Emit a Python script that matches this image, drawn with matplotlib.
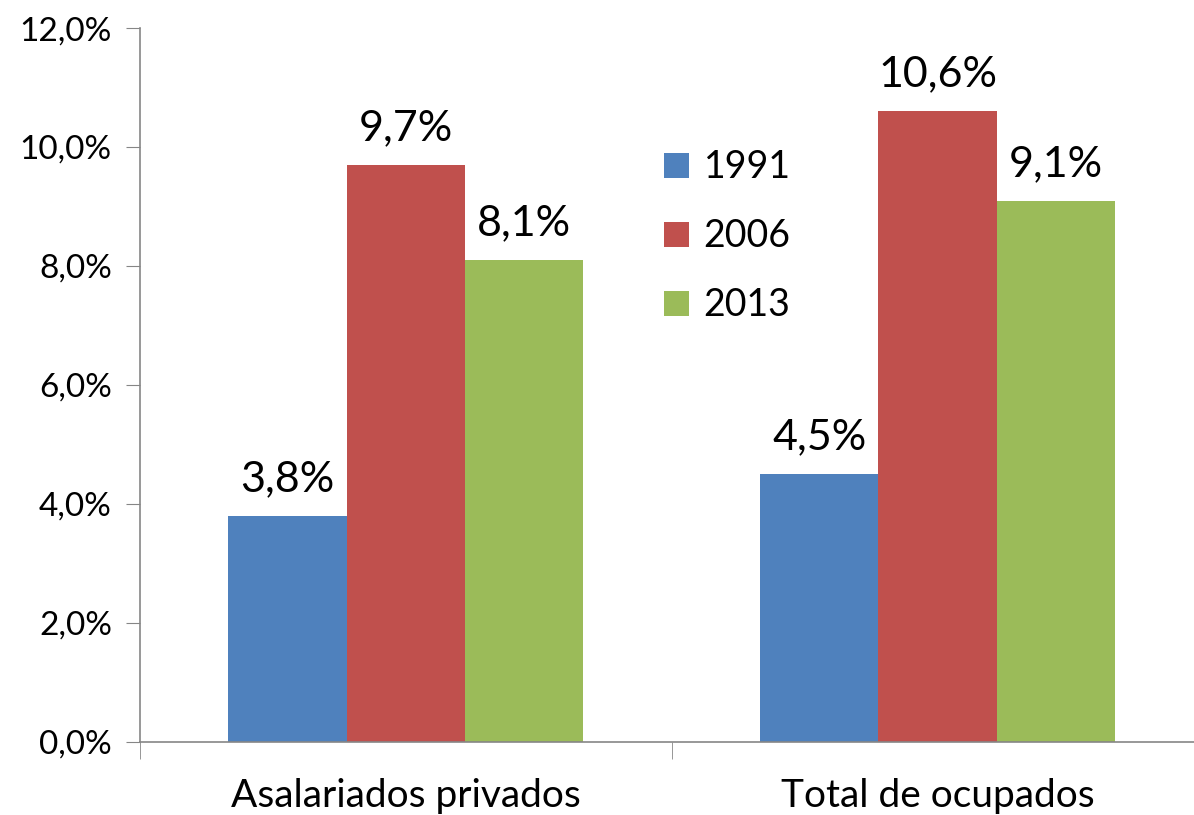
import matplotlib.pyplot as plt
import numpy as np

plt.rcParams['font.family'] = ['Lato', 'DejaVu Sans']

categories = ['Asalariados privados', 'Total de ocupados']
years = ['1991', '2006', '2013']
values = {
    '1991': [3.8, 4.5],
    '2006': [9.7, 10.6],
    '2013': [8.1, 9.1],
}
colors = ['#4F81BD', '#C0504D', '#9BBB59']

fig = plt.figure(figsize=(11.94, 8.15), dpi=100)
ax = fig.add_axes([0.117, 0.0896, 0.891, 0.876])

x = np.arange(len(categories))
w = 0.2222
for i, (yr, c) in enumerate(zip(years, colors)):
    pos = x + (i - 1) * w
    bars = ax.bar(pos, values[yr], w, color=c, label=yr)
    for b, v in zip(bars, values[yr]):
        ax.text(b.get_x() + b.get_width() / 2, v + 0.3,
                f'{v:.1f}%'.replace('.', ','), ha='center', va='bottom', fontsize=31)

ax.set_xlim(-0.5, 1.5)
ax.set_ylim(0, 12)
ticks = np.arange(0, 12.1, 2)
ax.set_yticks(ticks)
ax.set_yticklabels([f'{t:.1f}%'.replace('.', ',') for t in ticks], fontsize=24)
ax.set_xticks(x)
ax.set_xticklabels(categories, fontsize=28)
ax.tick_params(axis='x', length=0, pad=26)
ax.set_xticks([-0.5, 0.5, 1.5], minor=True)
ax.tick_params(axis='x', which='minor', length=12, color='#868686')
ax.tick_params(axis='y', length=10, color='#868686', pad=10)

for s in ['top', 'right']:
    ax.spines[s].set_visible(False)
for s in ['left', 'bottom']:
    ax.spines[s].set_color('#868686')
    ax.spines[s].set_linewidth(1.2)

ax.legend(loc='upper left', bbox_to_anchor=(0.493, 0.83), frameon=False, fontsize=27,
          handlelength=0.65, handleheight=0.65, labelspacing=0.88, handletextpad=0.4,
          borderpad=0, borderaxespad=0)

fig.savefig('out.png', dpi=100)
